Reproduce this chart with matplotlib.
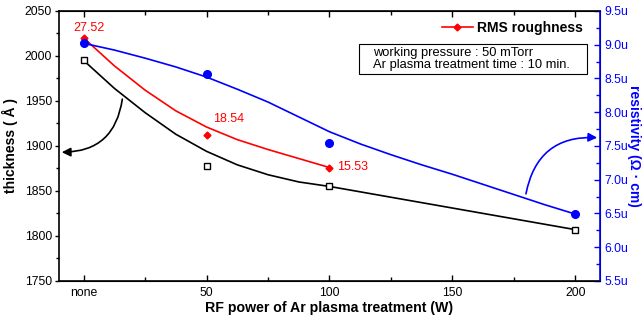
import matplotlib
matplotlib.use("Agg")
import matplotlib.pyplot as plt
from matplotlib.patches import Rectangle
from matplotlib.ticker import MultipleLocator, FuncFormatter

plt.rcParams['font.family'] = ['Liberation Sans', 'DejaVu Sans']

# measured points
power = [0, 50, 100, 200]
power_labels = ['none', '50', '100', '150', '200']
thickness = [1995, 1878, 1855, 1807]
resistivity = [9.03, 8.57, 7.55, 6.49]  # x 1e-6 ohm cm
rms_x = [0, 50, 100]
rms_pos = [2020, 1912, 1876]        # drawn on thickness scale
rms_text = ['27.52', '18.54', '15.53']

# fitted curves
fit_x = [0, 12.5, 25, 37.5, 50, 62.5, 75, 87.5, 100, 125, 150, 175, 200]
thick_fit = [1995, 1964, 1937, 1913, 1894, 1879, 1868, 1860, 1855, 1843, 1831, 1819, 1807]
rms_fit_x = [0, 12.5, 25, 37.5, 50, 62.5, 75, 87.5, 100]
rms_fit = [2020, 1989, 1962, 1939, 1921, 1907, 1896, 1886, 1876]
res_fit_x = [0, 12.5, 25, 37.5, 50, 62.5, 75, 87.5, 100, 112.5, 125,
             137.5, 150, 162.5, 175, 187.5, 200]
res_fit = [9.02, 8.92, 8.80, 8.67, 8.52, 8.34, 8.15, 7.93, 7.71, 7.53, 7.37,
           7.22, 7.08, 6.93, 6.78, 6.63, 6.49]

blue = '#0000ff'
red = '#ff0000'

fig = plt.figure(figsize=(6.44, 3.2), dpi=100)
ax = fig.add_axes([0.0916, 0.122, 0.840, 0.844])
ax2 = ax.twinx()

ax.plot(fit_x, thick_fit, color='black', lw=1.2)
ax.plot(power, thickness, 's', mfc='white', mec='black', ms=5, mew=1)
ax.plot(rms_fit_x, rms_fit, color=red, lw=1.2)
ax.plot(rms_x, rms_pos, 'D', color=red, ms=3.5)
ax2.plot(res_fit_x, res_fit, color=blue, lw=1.2)
ax2.plot(power, resistivity, 'o', color=blue, ms=5.5)

# roughness values
ax.text(2.2, 2031, rms_text[0], color=red, fontsize=9, ha='center', va='center')
ax.text(52.8, 1930, rms_text[1], color=red, fontsize=9, ha='left', va='center')
ax.text(103, 1877, rms_text[2], color=red, fontsize=9, ha='left', va='center')

# legend for roughness
rms_line, = ax.plot([], [], '-D', color=red, ms=3.5, lw=1.2)
ax.legend([rms_line], ['RMS roughness'], loc='center right',
          bbox_to_anchor=(0.968, 0.937), borderaxespad=0, borderpad=0,
          frameon=False, prop={'weight': 'bold', 'size': 10}, handlelength=2.2,
          handletextpad=0.3)

# condition box
ax.add_patch(Rectangle((0.554, 0.767), 0.422, 0.111, transform=ax.transAxes,
                       fill=False, ec='black', lw=0.8, zorder=5))
ax.text(0.580, 0.822, 'working pressure : 50 mTorr\nAr plasma treatment time : 10 min.',
        transform=ax.transAxes, fontsize=9.3, ha='left', va='center', linespacing=1.05)

# arrows to the axes
ax.annotate('', xy=(-10, 1893), xytext=(15.9, 1955),
            arrowprops=dict(arrowstyle='-|>', color='black', lw=1.2,
                            connectionstyle='arc3,rad=-0.45', mutation_scale=13))
ax2.annotate('', xy=(210, 7.62), xytext=(179.7, 6.75),
             arrowprops=dict(arrowstyle='-|>', color=blue, lw=1.2,
                             connectionstyle='arc3,rad=-0.45', mutation_scale=13))

ax.set_xlim(-10, 210)
ax.set_ylim(1750, 2050)
ax2.set_ylim(5.5, 9.5)

ax.xaxis.set_minor_locator(MultipleLocator(25))
ax.set_xticks([0, 50, 100, 150, 200])
ax.set_xticklabels(power_labels)
ax.yaxis.set_major_locator(MultipleLocator(50))
ax.yaxis.set_minor_locator(MultipleLocator(25))
ax2.yaxis.set_major_locator(MultipleLocator(0.5))
ax2.yaxis.set_minor_locator(MultipleLocator(0.25))
ax2.yaxis.set_major_formatter(FuncFormatter(lambda v, p: '%.1fu' % v))

ax.tick_params(axis='x', which='both', direction='in', top=True, labelsize=8.8, width=1, pad=4)
ax.tick_params(axis='x', which='major', length=4)
ax.tick_params(axis='x', which='minor', length=3)
ax.tick_params(axis='y', which='both', direction='out', labelsize=8.8, width=1, pad=2)
ax.tick_params(axis='y', which='major', length=3)
ax.tick_params(axis='y', which='minor', length=2)
ax2.tick_params(axis='y', which='both', direction='in', colors=blue, labelsize=8.8, width=1, pad=3)
ax2.tick_params(axis='y', which='major', length=4)
ax2.tick_params(axis='y', which='minor', length=3)

for s in ['left', 'bottom', 'top']:
    ax.spines[s].set_linewidth(1.2)
ax2.spines['right'].set_color(blue)
ax2.spines['right'].set_linewidth(1.2)
ax2.spines['left'].set_visible(False)

ax.set_xlabel('RF power of Ar plasma treatment (W)', fontsize=10.2, fontweight='bold', labelpad=2)
ax.set_ylabel('thickness ( Å )', fontsize=10, fontweight='bold', labelpad=5)
ax2.set_ylabel('resistivity (Ω · cm)', fontsize=10, fontweight='bold', color=blue,
               rotation=-90, labelpad=9)

fig.savefig('out.png', dpi=100)
